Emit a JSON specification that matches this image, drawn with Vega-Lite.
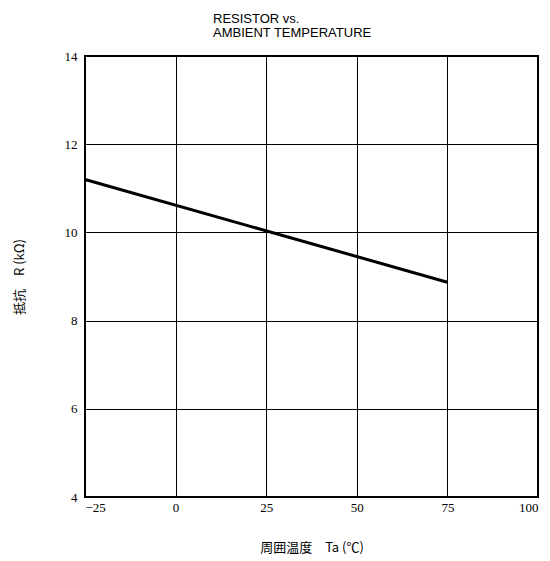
{
  "$schema": "https://vega.github.io/schema/vega-lite/v6.json",
  "autosize": {"type": "none"},
  "padding": {"left": 85, "top": 56, "right": 12, "bottom": 64},
  "width": 453,
  "height": 441,
  "background": "white",
  "title": {
    "text": ["RESISTOR vs.", "AMBIENT TEMPERATURE"],
    "anchor": "start",
    "frame": "group",
    "align": "left",
    "dx": 128,
    "offset": 10,
    "font": "Liberation Sans",
    "fontSize": 13,
    "fontWeight": "normal",
    "lineHeight": 14,
    "color": "black"
  },
  "config": {
    "view": {"stroke": "black", "strokeWidth": 2},
    "axis": {
      "grid": true,
      "gridColor": "black",
      "gridOpacity": 1,
      "gridWidth": 1,
      "domain": false,
      "ticks": false,
      "labelFont": "Liberation Serif",
      "labelFontSize": 13,
      "labelColor": "black",
      "titleFont": "Noto Sans CJK JP",
      "titleFontSize": 13,
      "titleFontWeight": "normal",
      "titleColor": "black"
    }
  },
  "data": {
    "values": [
      {"temp": -25, "r": 11.2},
      {"temp": 75, "r": 8.87}
    ]
  },
  "mark": {"type": "line", "color": "black", "strokeWidth": 3},
  "encoding": {
    "x": {
      "field": "temp",
      "type": "quantitative",
      "scale": {"domain": [-25, 100], "nice": false, "zero": false},
      "axis": {"values": [-25, 0, 25, 50, 75, 100], "title": "周囲温度　Ta (℃)", "labelPadding": 4, "titlePadding": 27}
    },
    "y": {
      "field": "r",
      "type": "quantitative",
      "scale": {"domain": [4, 14], "nice": false, "zero": false},
      "axis": {"values": [4, 6, 8, 10, 12, 14], "title": "抵抗　R (kΩ)", "labelPadding": 8, "titlePadding": 38}
    }
  }
}
